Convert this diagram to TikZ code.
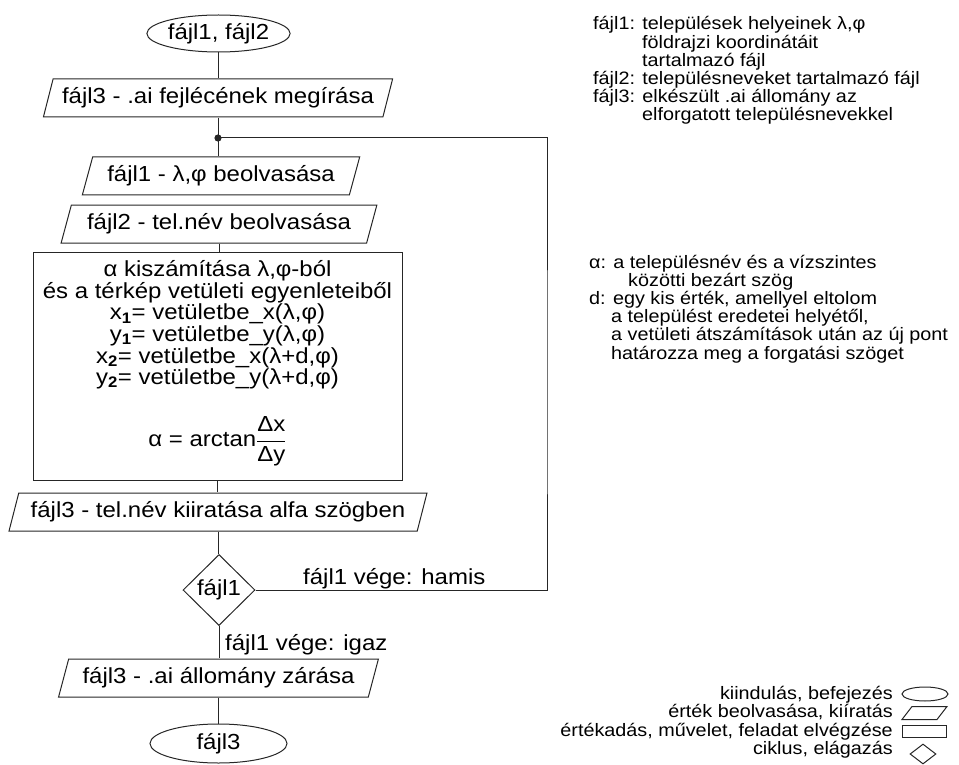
\RequirePackage{fix-cm}
\documentclass[tikz,border=0pt]{standalone}
\usepackage{fontspec}
\setmainfont{Liberation Sans}[FakeStretch=1.1]
\usetikzlibrary{shapes.geometric}

\newcommand\flowfont{\fontsize{21.8}{21.6}\selectfont}
\newcommand\notefont{\fontsize{18}{18.2}\selectfont}
\newcommand\keyfont{\fontsize{18}{18.5}\selectfont}

\tikzset{
  flow/.style={draw=black!85, line width=1pt},
  shapeline/.style={draw=black!85, line width=1pt, inner sep=0pt},
  terminal/.style={shapeline, ellipse, minimum width=137pt, minimum height=37pt, font=\flowfont},
  iobox/.style={shapeline, trapezium, trapezium left angle=66, trapezium right angle=114,
    trapezium stretches=true, minimum height=38pt, font=\flowfont},
  procbox/.style={shapeline, rectangle, minimum width=369pt, minimum height=228pt},
  decision/.style={shapeline, diamond, minimum width=72pt, minimum height=71pt, font=\flowfont},
  lbl/.style={inner sep=0pt, font=\flowfont},
  boxtext/.style={inner sep=0pt, align=center, font=\flowfont},
  notetext/.style={inner sep=0pt, align=left, font=\notefont},
  keytext/.style={inner sep=0pt, font=\keyfont},
}

\begin{document}
\begin{tikzpicture}[x=1pt, y=-1pt]
\useasboundingbox (0,0) rectangle (959,765);

% main flow
\node[terminal] (start) at (218.5,33.5) {fájl1, fájl2};
\node[iobox, minimum width=350pt] (hdr) at (218,98) {fájl3 - .ai fejlécének megírása};
\coordinate (join) at (218,138);
\node[iobox, minimum width=278pt] (readA) at (221,176) {fájl1 - λ,φ beolvasása};
\node[iobox, minimum width=316pt] (readB) at (219,224) {fájl2 - tel.név beolvasása};
\node[procbox] (calc) at (217.5,366) {};
% multi-line text: the base anchor sits on the last line
\node[boxtext, anchor=base] (calctext) at (217.5,384.7)
  {α kiszámítása λ,φ-ból\\
   és a térkép vetületi egyenleteiből\\
   x\textsubscript{\textbf{1}}= vetületbe\_x(λ,φ)\\
   y\textsubscript{\textbf{1}}= vetületbe\_y(λ,φ)\\
   x\textsubscript{\textbf{2}}= vetületbe\_x(λ+d,φ)\\
   y\textsubscript{\textbf{2}}= vetületbe\_y(λ+d,φ)};
\node[boxtext, anchor=base] (ratio) at (217.5,446.7)
  {α = arctan$\displaystyle\frac{\mbox{Δx}}{\mbox{Δy}}$};
\node[iobox, minimum width=420pt] (write) at (218,512) {fájl3 - tel.név kiiratása alfa szögben};
\node[decision] (test) at (219,590) {fájl1};
\node[iobox, minimum width=321pt] (close) at (218.5,678) {fájl3 - .ai állomány zárása};
\node[terminal, minimum height=39pt] (stop) at (218.5,743.5) {fájl3};
\coordinate (loopback) at (547,400);

% connectors
\draw[flow] (start.south) -- (start.south |- hdr.north);
\draw[flow] (hdr.south) -- (hdr.south |- readA.north);
\draw[flow] (readA.south -| hdr.south) -- (readA.south -| hdr.south |- readB.north);
\draw[flow] (readB.south) -- (readB.south |- calc.north);
\draw[flow] (calc.south) -- (calc.south |- write.north);
\draw[flow] (write.south) -- (write.south |- test.north);
\draw[flow] (test.south) -- (test.south |- close.north);
\draw[flow] (close.south) -- (close.south |- stop.north);
\draw[flow] (test.east) -| (loopback) |- (join);
\fill[black!85] (join) circle (3.6pt);

\node[lbl, anchor=base west] (falselbl) at (303,584) {fájl1 vége: hamis};
\node[lbl, anchor=base west] (truelbl) at (225,650) {fájl1 vége: igaz};

% notes (anchored on their last lines)
\node[notetext, anchor=base west] (filenotes) at (593,121)
  {fájl1: települések helyeinek λ,φ\\
   \hspace*{49pt}földrajzi koordinátáit\\
   \hspace*{49pt}tartalmazó fájl\\
   fájl2: településneveket tartalmazó fájl\\
   fájl3: elkészült .ai állomány az\\
   \hspace*{49pt}elforgatott településnevekkel};
\node[notetext, anchor=base west] (varnotes) at (589,359)
  {α: a településnév és a vízszintes\\
   \hspace*{39pt}közötti bezárt szög\\
   d: egy kis érték, amellyel eltolom\\
   \hspace*{22pt}a települést eredetei helyétől,\\
   \hspace*{22pt}a vetületi átszámítások után az új pont\\
   \hspace*{22pt}határozza meg a forgatási szöget};

% key of symbols
\node[keytext, anchor=base east] (keyA) at (893,699) {kiindulás, befejezés};
\node[keytext, anchor=base east] (keyB) at (893,717.5) {érték beolvasása, kiíratás};
\node[keytext, anchor=base east] (keyC) at (893,736) {értékadás, művelet, feladat elvégzése};
\node[keytext, anchor=base east] (keyD) at (893,754.5) {ciklus, elágazás};
\node[shapeline, ellipse, minimum width=46pt, minimum height=14pt] (iconA) at (925,694) {};
\draw[flow] (902,719.5) -- (912,706.5) -- (947,706.5) -- (937,719.5) -- cycle;
\node[shapeline, rectangle, minimum width=44pt, minimum height=12pt] (iconC) at (924.7,731) {};
\node[shapeline, diamond, minimum width=26pt, minimum height=20pt] (iconD) at (923,754) {};
\end{tikzpicture}
\end{document}
